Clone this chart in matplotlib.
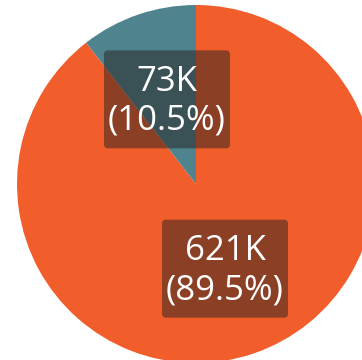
import matplotlib
matplotlib.use("Agg")
import matplotlib.pyplot as plt
from matplotlib.patches import FancyBboxPatch

categories = ["B", "A"]
values_k = [621, 73]
colors = ["#F15E2C", "#4F838E"]

W, H = 362, 360
cx, cy, R = 196, 184, 179

fig = plt.figure(figsize=(W / 100, H / 100), dpi=100)
ax = fig.add_axes([0, 0, 1, 1])
ax.axis("off")

total = sum(values_k)
labels = [f"{v}K\n({v / total * 100:.1f}%)" for v in values_k]

wedges, texts = ax.pie(values_k, colors=colors, startangle=90, counterclock=False,
                       labels=labels, labeldistance=0.5, radius=1,
                       wedgeprops=dict(linewidth=0))
ax.set_xlim(-cx / R, (W - cx) / R)
ax.set_ylim(-(H - cy) / R, cy / R)
ax.set_aspect("auto")

bw, bh = 126 / R, 98 / R
for t in texts:
    x, y = t.get_position()
    box = FancyBboxPatch((x - bw / 2, y - bh / 2), bw, bh,
                         boxstyle=f"round,pad=0,rounding_size={4 / R}",
                         fc="#262220", alpha=0.5, ec="none", zorder=3)
    ax.add_patch(box)
    t.set_position((x, y - 2 / R))
    t.set_ha("center")
    t.set_va("center")
    t.set_color("white")
    t.set_fontsize(25)
    t.set_family("Open Sans")
    t.set_linespacing(1.2)
    t.set_multialignment("center")
    t.set_zorder(4)

fig.savefig("out.png", dpi=100)
